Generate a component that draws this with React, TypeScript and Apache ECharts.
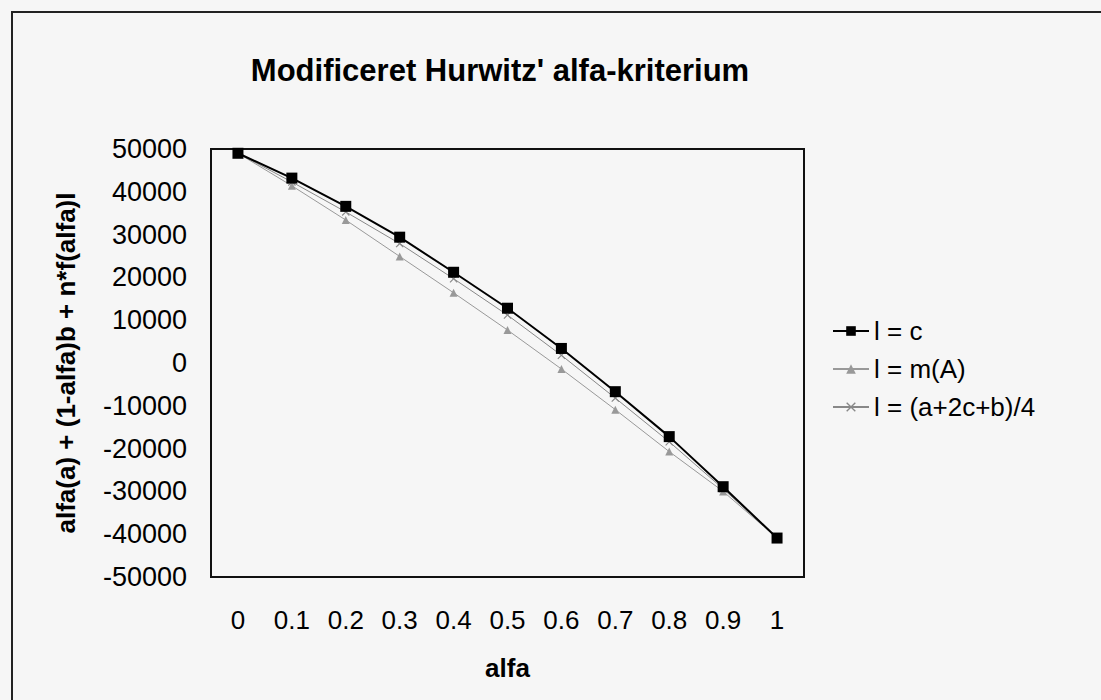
import React, { useEffect, useRef } from "react";
import * as echarts from "echarts";

const categories = ["0", "0.1", "0.2", "0.3", "0.4", "0.5", "0.6", "0.7", "0.8", "0.9", "1"];
const seriesNames = ["l = c", "l = m(A)", "l = (a+2c+b)/4"];
const valuesC = [49000, 43200, 36600, 29400, 21200, 12800, 3400, -6700, -17200, -28900, -40900];
const valuesM = [49000, 41400, 33400, 24900, 16400, 7700, -1400, -10900, -20700, -30000, -40900];
const valuesAvg = [49000, 42300, 35300, 27900, 19700, 11200, 1800, -8200, -18400, -29400, -40900];
const yTicks = { min: -50000, max: 50000, interval: 10000 };
const titleText = "Modificeret Hurwitz' alfa-kriterium";
const xName = "alfa";
const yName = "alfa(a) + (1-alfa)b + n*f(alfa)l";

const FONT = "'Liberation Sans', Arial, Helvetica, sans-serif";
const X_SYMBOL = "path://M0,1L1,0L5,4L9,0L10,1L6,5L10,9L9,10L5,6L1,10L0,9L4,5Z";

export default function App() {
  const ref = useRef<HTMLDivElement>(null);
  useEffect(() => {
    document.body.style.margin = "0";
    if (!ref.current) return;
    const chart = echarts.init(ref.current, undefined, { renderer: "svg" });
    chart.setOption({
      animation: false,
      backgroundColor: "#f6f6f6",
      textStyle: { fontFamily: FONT, color: "#000" },
      graphic: [
        {
          type: "rect",
          shape: { x: 12, y: 12, width: 1120, height: 720 },
          style: { fill: "none", stroke: "#222", lineWidth: 2 },
          silent: true,
        },
        {
          type: "text",
          x: 500,
          y: 70,
          style: {
            text: titleText,
            font: `bold 31px ${FONT}`,
            fill: "#000",
            textAlign: "center",
            textVerticalAlign: "middle",
          },
        },
      ],
      grid: {
        left: 211,
        right: 297,
        top: 149,
        bottom: 123,
        show: true,
        borderColor: "#111",
        borderWidth: 2,
        backgroundColor: "transparent",
      },
      legend: {
        orient: "vertical",
        left: 827,
        top: 313,
        itemWidth: 36,
        itemHeight: 12,
        itemGap: 12,
        textStyle: { fontSize: 26, color: "#000", fontFamily: FONT },
        data: seriesNames,
      },
      xAxis: {
        type: "category",
        data: categories,
        boundaryGap: true,
        axisLine: { show: true, onZero: false, lineStyle: { color: "#111", width: 2 } },
        axisTick: { show: false },
        splitLine: { show: false },
        axisLabel: { fontSize: 26, color: "#000", margin: 30, interval: 0 },
        name: xName,
        nameLocation: "middle",
        nameGap: 78,
        nameTextStyle: { fontSize: 26, fontWeight: "bold", color: "#000" },
      },
      yAxis: {
        type: "value",
        min: yTicks.min,
        max: yTicks.max,
        interval: yTicks.interval,
        axisLine: { show: true, lineStyle: { color: "#111", width: 2 } },
        axisTick: { show: false },
        splitLine: { show: false },
        axisLabel: {
          fontSize: 27,
          color: "#000",
          margin: 24,
          formatter: (v: number) => String(v),
        },
        name: yName,
        nameLocation: "middle",
        nameRotate: 90,
        nameGap: 132,
        nameTextStyle: { fontSize: 26, fontWeight: "bold", color: "#000" },
      },
      series: [
        {
          name: seriesNames[0],
          type: "line",
          data: valuesC,
          z: 5,
          symbol: "rect",
          symbolSize: 11,
          itemStyle: { color: "#000" },
          lineStyle: { color: "#000", width: 2 },
        },
        {
          name: seriesNames[1],
          type: "line",
          data: valuesM,
          z: 3,
          symbol: "triangle",
          symbolSize: 8,
          itemStyle: { color: "#999" },
          lineStyle: { color: "#999", width: 1 },
        },
        {
          name: seriesNames[2],
          type: "line",
          data: valuesAvg,
          z: 4,
          symbol: X_SYMBOL,
          symbolSize: 8,
          itemStyle: { color: "#888" },
          lineStyle: { color: "#888", width: 1 },
        },
      ],
    });
    return () => chart.dispose();
  }, []);
  return <div ref={ref} style={{ width: 1101, height: 700 }} />;
}
